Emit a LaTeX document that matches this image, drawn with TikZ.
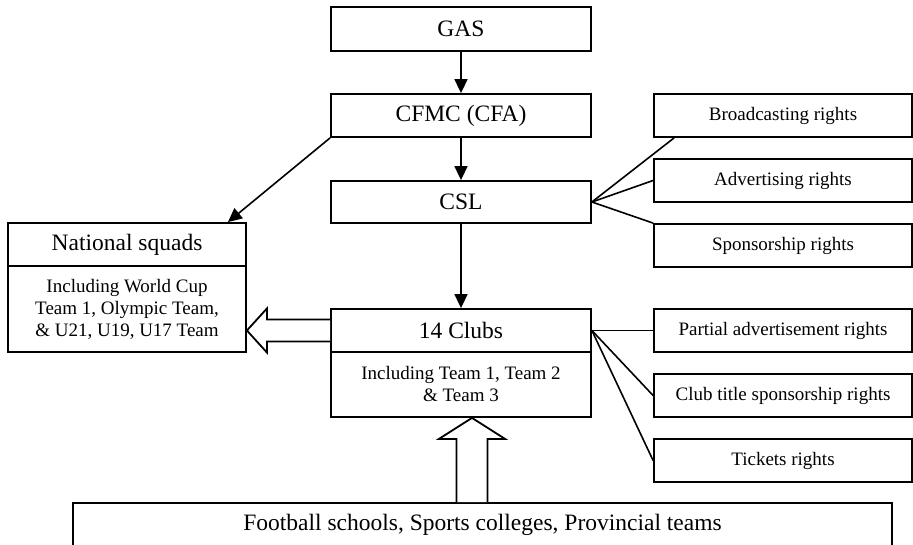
\documentclass[tikz,border=0pt]{standalone}
\usepackage{fontspec}
\setmainfont{Liberation Serif}
\usetikzlibrary{arrows.meta,calc}
\begin{document}
\begin{tikzpicture}[x=1pt,y=-1pt,
  box/.style={draw, line width=1.8pt, inner sep=0pt, align=center},
  big/.style={font=\fontsize{23.5}{26}\selectfont},
  small/.style={font=\fontsize{19}{22}\selectfont},
  mid/.style={box, minimum width=260pt},
  side/.style={box, small, minimum width=258pt, minimum height=43pt},
  conn/.style={line width=1.6pt},
  arr/.style={line width=1.6pt, -{Triangle[length=14pt,width=13pt]}},
  hollow/.style={line width=1.8pt, fill=white, line join=miter}
]
\useasboundingbox (0,0) rectangle (913,545);
% central column
\node[mid, big, minimum height=44pt] (gas) at (461,29) {GAS};
\node[mid, big, minimum height=43pt] (cfmc) at (461,115.5) {CFMC (CFA)};
\node[mid, big, minimum height=42pt] (csl) at (461,202) {CSL};
\node[mid, big, minimum height=43pt] (clh) at (461,330.5) {14 Clubs};
\node[mid, small, minimum height=65pt] (clb) at (461,384.5) {Including Team 1, Team 2\\\& Team 3};
% right boxes
\node[side] (bc) at (783,115.5) {Broadcasting rights};
\node[side] (adv) at (783,180.5) {Advertising rights};
\node[side] (spo) at (783,245.5) {Sponsorship rights};
\node[side] (pa) at (783,330.5) {Partial advertisement rights};
\node[side] (ct) at (783,395.5) {Club title sponsorship rights};
\node[side] (tk) at (783,460.5) {Tickets rights};
% national squads
\node[box, big, minimum width=238pt, minimum height=43pt] (nsh) at (127,244.5) {National squads};
\node[box, small, minimum width=238pt, minimum height=86pt] (nsb) at (127,309) {Including World Cup\\Team 1, Olympic Team,\\\& U21, U19, U17 Team};
% bottom
\node[box, big, minimum width=819pt, minimum height=44pt] (bot) at (482.5,525) {Football schools, Sports colleges, Provincial teams};
% arrows
\draw[arr] (gas.south) -- (cfmc.north);
\draw[arr] (cfmc.south) -- (csl.north);
\draw[arr] (csl.south) -- (clh.north);
\draw[arr] (cfmc.south west) -- ([xshift=-19pt]nsh.north east);
% fans
\draw[conn] (csl.east) -- ([xshift=21pt]bc.south west);
\draw[conn] (csl.east) -- (adv.west);
\draw[conn] (csl.east) -- (spo.north west);
\draw[conn] (clh.east) -- (pa.west);
\draw[conn] (clh.east) -- (ct.west);
\draw[conn] (clh.east) -- (tk.west);
% hollow arrow left
\coordinate (ltip) at (nsb.east |- clh.west);
\draw[hollow] ($(clh.west)+(0,-11)$) -- ($(ltip)+(20,-11)$) -- ($(ltip)+(20,-22)$) -- (ltip) -- ($(ltip)+(20,22)$) -- ($(ltip)+(20,11)$) -- ($(clh.west)+(0,11)$);
% hollow arrow up
\coordinate (utip) at ($(clb.south)+(11,0)$);
\coordinate (ubase) at (utip |- bot.north);
\draw[hollow] ($(ubase)+(-15.5,0)$) -- ($(utip)+(-15.5,21)$) -- ($(utip)+(-33,21)$) -- (utip) -- ($(utip)+(33,21)$) -- ($(utip)+(15.5,21)$) -- ($(ubase)+(15.5,0)$);
\end{tikzpicture}
\end{document}
